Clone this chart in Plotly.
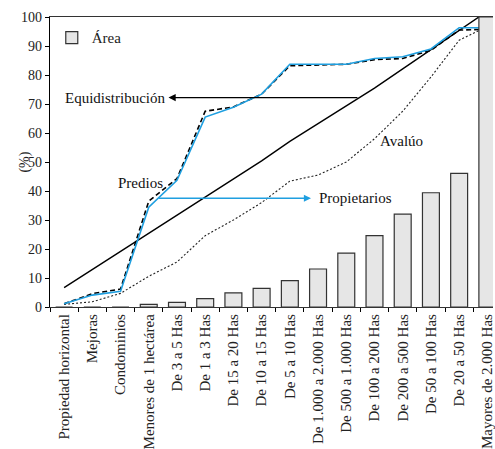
import plotly.graph_objects as go

categories = [
    "Propiedad horizontal", "Mejoras", "Condominios", "Menores de 1 hectárea",
    "De 3 a 5 Has", "De 1 a 3 Has", "De 15 a 20 Has", "De 10 a 15 Has",
    "De 5 a 10 Has", "De 1.000 a 2.000 Has", "De 500 a 1.000 Has",
    "De 100 a 200 Has", "De 200 a 500 Has", "De 50 a 100 Has",
    "De 20 a 50 Has", "Mayores de 2.000 Has",
]

area = [0, 0, 0, 0.9, 1.6, 2.9, 4.9, 6.4, 9.1, 13.1, 18.6, 24.6, 32.0, 39.4, 46.1, 100]
equidistribucion = [6.7, 12.9, 19.1, 25.3, 31.5, 37.7, 43.9, 50.4, 57.1, 63.2, 69.3, 75.5, 82.1, 88.8, 95.4, 102]
predios = [1.1, 4.6, 6.2, 36.5, 44.3, 67.5, 69.0, 73.4, 83.2, 83.4, 83.7, 85.3, 85.7, 88.5, 95.5, 95.8]
propietarios = [1.1, 4.1, 5.4, 34.4, 43.7, 65.5, 68.9, 73.4, 83.7, 83.7, 83.7, 85.7, 86.3, 89.0, 96.3, 96.3]
avaluo = [0.9, 1.8, 4.7, 10.6, 15.5, 24.6, 30.0, 36.0, 43.4, 45.5, 50.0, 58.0, 67.5, 79.3, 92.0, 96.7]

y_ticks = list(range(0, 101, 10))

FONT = "Liberation Serif"
BLUE = "#1f9fe0"
BAR_FILL = "#e6e6e6"
BAR_LINE = "#333333"

last = len(categories) - 1

fig = go.Figure()

# Área bars (all but the last; last drawn on an overlay axis so it sits above the lines)
fig.add_trace(go.Bar(
    x=categories[:last], y=area[:last], name="Área",
    marker=dict(color=BAR_FILL, line=dict(color=BAR_LINE, width=1.2)),
    showlegend=True,
))

fig.add_trace(go.Scatter(x=categories, y=avaluo, mode="lines", name="Avalúo",
                         line=dict(color="#222222", width=1.1, dash="2px,2px"), showlegend=False))
fig.add_trace(go.Scatter(x=categories, y=equidistribucion, mode="lines", name="Equidistribución",
                         line=dict(color="#000000", width=1.4), showlegend=False))
fig.add_trace(go.Scatter(x=categories, y=predios, mode="lines", name="Predios",
                         line=dict(color="#000000", width=1.6, dash="5px,3px"), showlegend=False))
fig.add_trace(go.Scatter(x=categories, y=propietarios, mode="lines", name="Propietarios",
                         line=dict(color=BLUE, width=1.6), showlegend=False))

fig.add_trace(go.Bar(
    x=categories[last:], y=area[last:], name="Área", xaxis="x2", width=0.6,
    marker=dict(color=BAR_FILL, line=dict(color=BAR_LINE, width=1.2)),
    showlegend=False,
))

xrange = [-0.5, 15.2]

fig.update_layout(
    width=495, height=449,
    margin=dict(l=50, r=0, t=17, b=134),
    paper_bgcolor="white", plot_bgcolor="white",
    bargap=0.4,
    font=dict(family=FONT, size=14, color="#222222"),
    showlegend=True,
    legend=dict(x=0.004, y=0.985, xanchor="left", yanchor="top",
                bgcolor="rgba(0,0,0,0)", font=dict(family=FONT, size=15),
                itemwidth=30, tracegroupgap=0),
    xaxis=dict(
        type="category", categoryorder="array", categoryarray=categories,
        range=xrange, tickangle=-90, tickson="boundaries",
        ticks="outside", ticklen=4, tickcolor="#000", tickwidth=1,
        showline=True, linecolor="#333", linewidth=1.2, mirror=True,
        showgrid=False, zeroline=False, ticklabeloverflow="allow",
        tickfont=dict(family=FONT, size=15, color="#222"),
    ),
    xaxis2=dict(
        type="category", categoryorder="array", categoryarray=categories,
        range=xrange, overlaying="x", visible=False,
    ),
    yaxis=dict(
        range=[0, 100], tickvals=y_ticks, ticks="outside", ticklen=4,
        tickcolor="#000", showline=True, linecolor="#000", linewidth=1.2,
        showgrid=False, zeroline=False,
        tickfont=dict(family=FONT, size=14, color="#222"),
    ),
)

# y axis title
fig.add_annotation(x=-0.08, y=0.5, xref="paper", yref="paper", text="(%)",
                   textangle=-90, showarrow=False, font=dict(family=FONT, size=14, color="#222"))

# Equidistribución label with left-pointing arrow
fig.add_annotation(x=3.7, y=72.2, ax=10.45, ay=72.2, axref="x", ayref="y",
                   xref="x", yref="y", text="", showarrow=True,
                   arrowhead=2, arrowsize=1.1, arrowwidth=1.3, arrowcolor="#000", standoff=0)
fig.add_annotation(x=3.65, y=72.2, xref="x", yref="y", text="Equidistribución",
                   showarrow=False, xanchor="right", font=dict(family=FONT, size=15, color="#111"))

# Predios label
fig.add_annotation(x=2.7, y=42.9, xref="x", yref="y", text="Predios",
                   showarrow=False, font=dict(family=FONT, size=15, color="#111"))

# Propietarios arrow and label
fig.add_annotation(x=8.75, y=37.5, ax=3.3, ay=37.5, axref="x", ayref="y",
                   xref="x", yref="y", text="", showarrow=True,
                   arrowhead=2, arrowsize=1.1, arrowwidth=1.3, arrowcolor=BLUE, standoff=0)
fig.add_annotation(x=8.95, y=37.5, xref="x", yref="y", text="Propietarios",
                   showarrow=False, xanchor="left", font=dict(family=FONT, size=15, color="#111"))

# Avalúo label
fig.add_annotation(x=11.95, y=57.1, xref="x", yref="y", text="Avalúo",
                   showarrow=False, font=dict(family=FONT, size=15, color="#111"))

fig.write_html(
    "out.html",
    config={"displayModeBar": False},
    post_script="document.body.style.margin='0';document.body.style.overflow='hidden';",
)
